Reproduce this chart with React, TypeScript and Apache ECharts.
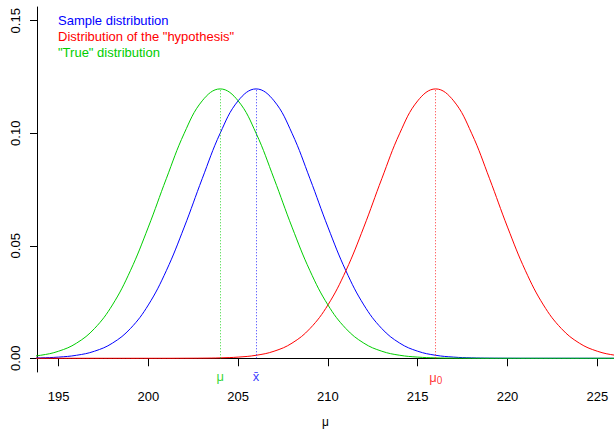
import React, { useEffect, useRef } from "react";
import * as echarts from "echarts";

// x grid (mu) where the densities were read
const xs = [193, 194, 195, 196, 197, 198, 199, 200, 201, 202, 203, 204, 205, 206, 207, 208, 209, 210,
  211, 212, 213, 214, 215, 216, 217, 218, 219, 220, 221, 222, 223, 224, 225, 226, 227];

// "True" distribution (green, centred at 204)
const trueDist = [0.00052, 0.00133, 0.00313, 0.00672, 0.0132, 0.0237, 0.0389, 0.0583, 0.0798, 0.1, 0.1144,
  0.1197, 0.1144, 0.1, 0.0798, 0.0583, 0.0389, 0.0237, 0.0132, 0.00672, 0.00313, 0.00133, 0.00052,
  0.00018, 0.00006, 0.00002, 0, 0, 0, 0, 0, 0, 0, 0, 0];

// Sample distribution (blue, centred at 206)
const sampleDist = [0.00006, 0.00018, 0.00052, 0.00133, 0.00313, 0.00672, 0.0132, 0.0237, 0.0389, 0.0583,
  0.0798, 0.1, 0.1144, 0.1197, 0.1144, 0.1, 0.0798, 0.0583, 0.0389, 0.0237, 0.0132, 0.00672, 0.00313,
  0.00133, 0.00052, 0.00018, 0.00006, 0.00002, 0, 0, 0, 0, 0, 0, 0];

// Distribution of the "hypothesis" (red, centred at 216)
const hypDist = [0, 0, 0, 0, 0, 0, 0, 0, 0, 0.00002, 0.00006, 0.00018, 0.00052, 0.00133, 0.00313, 0.00672,
  0.0132, 0.0237, 0.0389, 0.0583, 0.0798, 0.1, 0.1144, 0.1197, 0.1144, 0.1, 0.0798, 0.0583, 0.0389,
  0.0237, 0.0132, 0.00672, 0.00313, 0.00133, 0.00052];

const xTicks = [195, 200, 205, 210, 215, 220, 225];
const yTicks = [0, 0.05, 0.1, 0.15];

const trueMean = 204;
const sampleMean = 206;
const hypMean = 216;
const peak = 0.1197;

const legendLabels = ["Sample distribution", 'Distribution of the "hypothesis"', '"True" distribution'];

const BLUE = "#0000FF";
const RED = "#FF0000";
const GREEN = "#00CD00";
const FONT = "'Liberation Sans', Arial, Helvetica, sans-serif";

function pairs(ys: number[]) {
  return xs.map((x, i) => [x, ys[i]]);
}

function meanLine(x: number, color: string, label: any) {
  return {
    silent: true,
    symbol: ["none", "none"],
    animation: false,
    lineStyle: { color, type: [1, 2], width: 1, opacity: 0.8 },
    label: {
      show: true,
      position: "start",
      distance: 12,
      color,
      fontFamily: FONT,
      fontSize: 13,
      ...label,
    },
    data: [[{ coord: [x, 0] }, { coord: [x, peak] }]],
  };
}

export default function App() {
  const ref = useRef<HTMLDivElement>(null);
  useEffect(() => {
    if (!ref.current) return;
    const chart = echarts.init(ref.current, undefined, { renderer: "svg" });
    const colors = [BLUE, RED, GREEN];
    chart.setOption({
      animation: false,
      backgroundColor: "#ffffff",
      textStyle: { fontFamily: FONT },
      grid: { left: 37, right: 0, top: 7, bottom: 59, outerBoundsMode: "none", containLabel: false },
      xAxis: {
        type: "value",
        min: 193.8,
        max: 225.93,
        name: "μ",
        nameLocation: "middle",
        nameGap: 44,
        nameTextStyle: { color: "#000", fontSize: 12, fontFamily: FONT },
        splitLine: { show: false },
        axisLine: { show: true, lineStyle: { color: "#000", width: 1 } },
        axisTick: { show: true, length: 8, lineStyle: { color: "#000" }, customValues: xTicks },
        axisLabel: { color: "#000", fontSize: 13, margin: 18, customValues: xTicks, fontFamily: FONT },
      },
      yAxis: {
        type: "value",
        min: -0.0061,
        max: 0.1561,
        splitLine: { show: false },
        axisLine: { show: true, lineStyle: { color: "#000", width: 1 } },
        axisTick: { show: true, length: 7, lineStyle: { color: "#000" }, customValues: yTicks },
        axisLabel: {
          color: "#000",
          fontSize: 13,
          rotate: 90,
          margin: 15,
          customValues: yTicks,
          fontFamily: FONT,
          formatter: (v: number) => v.toFixed(2),
        },
      },
      graphic: legendLabels.map((t, i) => ({
        type: "text",
        left: 58,
        top: 14 + i * 16,
        style: { text: t, fill: colors[i], fontSize: 13, fontFamily: FONT },
      })),
      series: [
        {
          type: "line",
          name: "Sample distribution",
          data: pairs(sampleDist),
          showSymbol: false,
          smooth: 0.4,
          lineStyle: { color: BLUE, width: 1 },
          itemStyle: { color: BLUE },
          markLine: meanLine(sampleMean, BLUE, { formatter: "x\u0304" }),
        },
        {
          type: "line",
          name: 'Distribution of the "hypothesis"',
          data: pairs(hypDist),
          showSymbol: false,
          smooth: 0.4,
          lineStyle: { color: RED, width: 1 },
          itemStyle: { color: RED },
          markLine: meanLine(hypMean, RED, {
            formatter: "{m|μ}{s|0}",
            rich: {
              m: { fontSize: 13, color: RED, fontFamily: FONT },
              s: { fontSize: 10, color: RED, fontFamily: FONT, padding: [5, 0, 0, 0] },
            },
          }),
        },
        {
          type: "line",
          name: '"True" distribution',
          data: pairs(trueDist),
          showSymbol: false,
          smooth: 0.4,
          lineStyle: { color: GREEN, width: 1 },
          itemStyle: { color: GREEN },
          markLine: meanLine(trueMean, GREEN, { formatter: "μ" }),
        },
      ],
    });
    return () => chart.dispose();
  }, []);
  return (
    <div
      ref={ref}
      style={{ position: "fixed", left: 0, top: 0, width: 614, height: 431, background: "#fff" }}
    />
  );
}
